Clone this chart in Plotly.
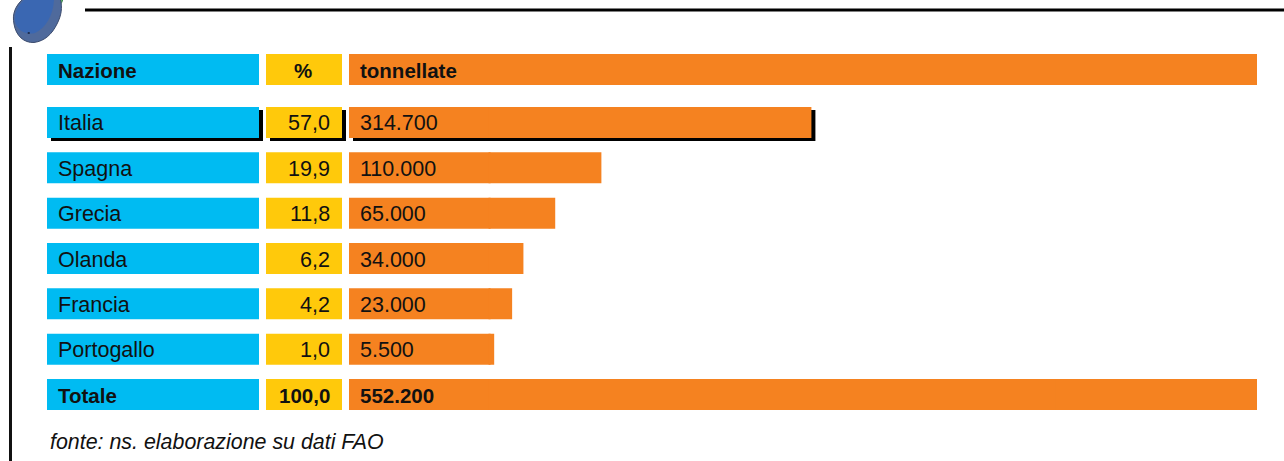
import plotly.graph_objects as go

W, H = 1284, 461

# Table contents
header = ["Nazione", "%", "tonnellate"]
nazioni = ["Italia", "Spagna", "Grecia", "Olanda", "Francia", "Portogallo"]
percentuali = [57.0, 19.9, 11.8, 6.2, 4.2, 1.0]
tonnellate = [314700, 110000, 65000, 34000, 23000, 5500]
totale_label = "Totale"
totale_pct = 100.0
totale_ton = 552200
fonte = "fonte: ns. elaborazione su dati FAO"

BLUE, YELLOW, ORANGE, INK = "#00BBF2", "#FFC90B", "#F58220", "#111111"
SANS = "Liberation Sans, Arial, sans-serif"
BODY_SIZE = 21.5
BOLD_SIZE = 20.5
BAR_WIDTH = 0.684

# The tonnage axis runs over the whole orange column; each bar carries a
# constant plate for its printed number, then its length on the scale.
TON_AXIS_MAX = 885000
PLATE = 136000
PLATE_OVERLAP = 2000

righe = nazioni + [totale_label]
RIGA_HEADER = "riga"


def it_pct(v):
    return f"{v:.1f}".replace(".", ",")


def it_ton(v):
    return f"{v:,}".replace(",", ".")


def xdom(a, b):
    return [a / W, b / W]


def ydom(top, bottom):
    return [1 - bottom / H, 1 - top / H]


COLS = {"naz": (47, 259), "pct": (266, 342), "ton": (349, 1257)}
RANGES = {"naz": [0, 1], "pct": [0, 1], "ton": [0, TON_AXIS_MAX]}
ROWS_TOP, ROWS_BOTTOM = 99.8, 417.2
SHADOW = 4

fig = go.Figure()
hidden = dict(visible=False, fixedrange=True)
layout = {}

# Axes: 1-3 hold the drop shadow, 4-6 the table rows, 7-9 the header row
for i, col in enumerate(["naz", "pct", "ton"]):
    a, b = COLS[col]
    layout[f"xaxis{i + 1 if i else ''}"] = dict(hidden, domain=xdom(a + SHADOW, b + SHADOW), range=RANGES[col], anchor="y")
    layout[f"xaxis{i + 4}"] = dict(hidden, domain=xdom(a, b), range=RANGES[col], anchor="y2")
    layout[f"xaxis{i + 7}"] = dict(hidden, domain=xdom(a, b), range=RANGES[col], anchor="y3")

row_axis = dict(hidden, type="category", categoryorder="array", categoryarray=righe, range=[6.5, -0.5])
layout["yaxis"] = dict(row_axis, domain=ydom(ROWS_TOP + SHADOW - 1, ROWS_BOTTOM + SHADOW - 1), anchor="x")
layout["yaxis2"] = dict(row_axis, domain=ydom(ROWS_TOP, ROWS_BOTTOM), anchor="x4")
layout["yaxis3"] = dict(hidden, type="category", categoryorder="array", categoryarray=[RIGA_HEADER],
                        range=[0.5, -0.5], domain=ydom(46.8, 92.2), anchor="x7")


def bar(x, y, color, xa, ya, base=None):
    fig.add_trace(go.Bar(
        x=x, y=y, base=base, orientation="h", width=BAR_WIDTH,
        marker=dict(color=color, line=dict(width=0)),
        xaxis=xa, yaxis=ya, showlegend=False, hoverinfo="skip",
    ))


# Drop shadow under the leading row
bar([1], [nazioni[0]], "#000000", "x", "y")
bar([1], [nazioni[0]], "#000000", "x2", "y")
bar([tonnellate[0]], [nazioni[0]], "#000000", "x3", "y", base=[PLATE])
bar([PLATE + PLATE_OVERLAP], [nazioni[0]], "#000000", "x3", "y")

# Table rows
bar([1] * len(righe), righe, BLUE, "x4", "y2")
bar([1] * len(righe), righe, YELLOW, "x5", "y2")
bar([PLATE + PLATE_OVERLAP] * len(nazioni), nazioni, ORANGE, "x6", "y2")
bar(tonnellate, nazioni, ORANGE, "x6", "y2", base=[PLATE] * len(nazioni))
bar([TON_AXIS_MAX], [totale_label], ORANGE, "x6", "y2")
bar([totale_ton], [totale_label], ORANGE, "x6", "y2", base=[PLATE])

# Header row
bar([1], [RIGA_HEADER], BLUE, "x7", "y3")
bar([1], [RIGA_HEADER], YELLOW, "x8", "y3")
bar([TON_AXIS_MAX], [RIGA_HEADER], ORANGE, "x9", "y3")

annotations = []


def label(text, xa, ya, y, x_frac, anchor, xshift, bold=False):
    annotations.append(dict(
        text=f"<b>{text}</b>" if bold else text,
        xref=f"{xa} domain", x=x_frac, xanchor=anchor, xshift=xshift,
        yref=ya, y=y, yanchor="middle", yshift=-1,
        showarrow=False,
        font=dict(family=SANS, size=BOLD_SIZE if bold else BODY_SIZE, color=INK),
    ))


label(header[0], "x7", "y3", RIGA_HEADER, 0, "left", 9, True)
label(header[1], "x8", "y3", RIGA_HEADER, 0.5, "center", -1, True)
label(header[2], "x9", "y3", RIGA_HEADER, 0, "left", 9, True)

for nome, pct, ton in zip(nazioni, percentuali, tonnellate):
    label(nome, "x4", "y2", nome, 0, "left", 9)
    label(it_pct(pct), "x5", "y2", nome, 1, "right", -10)
    label(it_ton(ton), "x6", "y2", nome, 0, "left", 9)

label(totale_label, "x4", "y2", totale_label, 0, "left", 9, True)
label(it_pct(totale_pct), "x5", "y2", totale_label, 1, "right", -10, True)
label(it_ton(totale_ton), "x6", "y2", totale_label, 0, "left", 9, True)

annotations.append(dict(
    text=f"<i>{fonte}</i>", xref="paper", yref="paper",
    x=48 / W, y=1 - 442 / H, xanchor="left", yanchor="middle", showarrow=False,
    font=dict(family=SANS, size=21.4, color=INK),
))


def px_x(v):
    return v / W


def px_y(v):
    return 1 - v / H


def curve(start, segments):
    d = f"M {px_x(start[0]):.5f},{px_y(start[1]):.5f}"
    for c1, c2, p in segments:
        d += " C " + " ".join(f"{px_x(a):.5f},{px_y(b):.5f}" for a, b in (c1, c2, p))
    return d + " Z"


shapes = [
    # Rules framing the table
    dict(type="rect", xref="paper", yref="paper", x0=px_x(85), x1=px_x(1284), y0=px_y(11.5), y1=px_y(8.5),
         fillcolor="#000000", line_width=0),
    dict(type="rect", xref="paper", yref="paper", x0=px_x(9), x1=px_x(12), y0=px_y(47), y1=px_y(461),
         fillcolor="#111111", line_width=0),
    # Plum emblem
    dict(type="path", xref="paper", yref="paper",
         path=curve((56, -4), [((54, -2), (56, 2), (59, 5)), ((61, 4), (63, 2), (63, -4)), ((61, -5), (58, -5), (56, -4))]),
         fillcolor="#5FBF6A", line=dict(color="#3E7F50", width=1)),
    dict(type="path", xref="paper", yref="paper",
         path=curve((24, -2), [((15, 6), (12, 14), (14, 24)), ((16, 36), (24, 43), (34, 42.5)),
                               ((45, 41), (52, 34), (57, 24)), ((61, 16), (63, 8), (60, -2))]),
         fillcolor="#4F6A9C", line=dict(color="#3C4C6E", width=1)),
    dict(type="path", xref="paper", yref="paper",
         path=curve((26, -2), [((17, 6), (14, 14), (15, 21)), ((17, 31), (26, 35), (35, 33)),
                               ((46, 28), (54, 14), (54, -2))]),
         fillcolor="#3A67B2", line_width=0),
    dict(type="circle", xref="paper", yref="paper", x0=px_x(27.5), x1=px_x(30), y0=px_y(34), y1=px_y(32),
         fillcolor="#1C2A4A", line_width=0),
]

fig.update_layout(
    width=W, height=H, autosize=False,
    margin=dict(l=0, r=0, t=0, b=0, pad=0),
    paper_bgcolor="#FFFFFF", plot_bgcolor="rgba(0,0,0,0)",
    barmode="overlay", showlegend=False,
    annotations=annotations, shapes=shapes,
    **layout,
)

fig.write_html("out.html", config={"displayModeBar": False})
